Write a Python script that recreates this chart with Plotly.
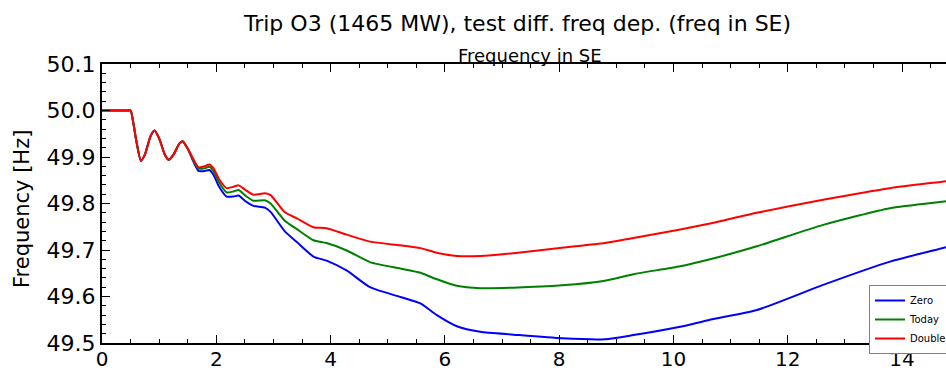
import plotly.graph_objects as go

time_s = [0.0, 0.25, 0.45, 0.5, 0.55, 0.6, 0.68, 0.75, 0.85, 0.92, 1.0, 1.1, 1.17, 1.25, 1.35, 1.41, 1.5,
          1.6, 1.69, 1.8, 1.88, 1.95, 2.05, 2.18, 2.3, 2.39, 2.5, 2.65, 2.85, 2.95, 3.2, 3.41,
          3.7, 3.93, 4.28, 4.69, 5.22, 5.57, 5.86, 6.21, 6.62, 7.2, 8.05, 8.8, 9.3, 10.12,
          10.64, 11.46, 12.62, 13.79, 14.77, 15.0]

common = [50.0, 50.0, 50.0, 50.0, 49.972, 49.935, 49.892, 49.905, 49.945, 49.957, 49.94, 49.905, 49.894,
          49.905, 49.928, 49.934, 49.918]

zero = common + [49.890, 49.870, 49.870, 49.872, 49.862, 49.836, 49.815, 49.815, 49.817, 49.806,
                 49.795, 49.791, 49.782, 49.740, 49.717, 49.686, 49.677, 49.656, 49.620, 49.599,
                 49.585, 49.560, 49.536, 49.524, 49.518, 49.510, 49.508, 49.517, 49.535, 49.550,
                 49.571, 49.625, 49.675, 49.706, 49.714]
today = common + [49.893, 49.875, 49.876, 49.879, 49.870, 49.845, 49.824, 49.826, 49.829, 49.818,
                  49.806, 49.807, 49.800, 49.763, 49.745, 49.721, 49.715, 49.699, 49.674, 49.660,
                  49.651, 49.637, 49.623, 49.618, 49.619, 49.624, 49.634, 49.648, 49.665, 49.680,
                  49.708, 49.754, 49.790, 49.805, 49.809]
double = common + [49.895, 49.878, 49.880, 49.884, 49.876, 49.852, 49.833, 49.836, 49.839, 49.830,
                   49.819, 49.822, 49.818, 49.781, 49.768, 49.749, 49.747, 49.733, 49.718, 49.710,
                   49.704, 49.694, 49.687, 49.687, 49.693, 49.705, 49.715, 49.726, 49.744, 49.757,
                   49.780, 49.808, 49.833, 49.848, 49.852]

series_names = ["Zero", "Today", "Double"]
series_colors = ["#0000ff", "#008000", "#ff0000"]
series_values = [zero, today, double]

x_ticks = [0, 2, 4, 6, 8, 10, 12, 14]
y_ticks = [49.5, 49.6, 49.7, 49.8, 49.9, 50.0, 50.1]
y_tick_text = ["49.5", "49.6", "49.7", "49.8", "49.9", "50.0", "50.1"]

title_text = "Trip O3 (1465 MW), test diff. freq dep. (freq in SE)"
subtitle_text = "Frequency in SE"
ylabel_text = "Frequency [Hz]"

FONT = "DejaVu Sans"

fig = go.Figure()
for name, color, vals in zip(series_names, series_colors, series_values):
    fig.add_trace(go.Scatter(x=time_s, y=vals, mode="lines", name=name,
                             line=dict(color=color, width=2, shape="spline", smoothing=0.6)))

W, H = 946, 374
L, R, T, B = 102, 0, 64, 31
pw, ph = W - L - R, H - T - B


def px_x(px):
    return (px - L) / pw


def px_y(py_from_top):
    return (H - py_from_top - B) / ph


fig.update_layout(
    width=W, height=H,
    margin=dict(l=L, r=R, t=T, b=B, autoexpand=False),
    paper_bgcolor="white", plot_bgcolor="white",
    font=dict(family=FONT, color="black"),
    showlegend=True,
    legend=dict(x=px_x(869), y=px_y(285), xanchor="left", yanchor="top",
                bgcolor="white", bordercolor="#808080", borderwidth=1,
                font=dict(size=10, family=FONT), itemwidth=30, tracegroupgap=0),
    xaxis=dict(range=[0, 14.77], tickvals=x_ticks, ticks="inside", ticklen=8, tickwidth=1,
               tickcolor="black", showline=True, linecolor="black", linewidth=2, mirror="ticks",
               showgrid=False, zeroline=False, tickfont=dict(size=20, family=FONT),
               ticklabelstandoff=-3,
               minor=dict(dtick=0.5, ticks="inside", ticklen=4, tickcolor="black", showgrid=False)),
    yaxis=dict(range=[49.5, 50.1], tickvals=y_ticks, ticktext=y_tick_text, ticks="inside",
               ticklen=8, tickwidth=1, tickcolor="black", showline=True, linecolor="black",
               linewidth=2, showgrid=False, zeroline=False, tickfont=dict(size=22, family=FONT),
               minor=dict(dtick=0.02, tick0=49.5, ticks="inside", ticklen=4, tickcolor="black",
                          showgrid=False)),
    annotations=[
        dict(text=title_text, x=px_x(517), y=px_y(23), xref="paper", yref="paper", showarrow=False,
             xanchor="center", yanchor="middle", font=dict(size=22, family=FONT)),
        dict(text=subtitle_text, x=px_x(530), y=px_y(55), xref="paper", yref="paper", showarrow=False,
             xanchor="center", yanchor="middle", font=dict(size=18, family=FONT)),
        dict(text=ylabel_text, x=px_x(22), y=px_y(209), xref="paper", yref="paper", showarrow=False,
             xanchor="center", yanchor="middle", textangle=-90, font=dict(size=21, family=FONT)),
    ],
)

fig.write_html("out.html")
